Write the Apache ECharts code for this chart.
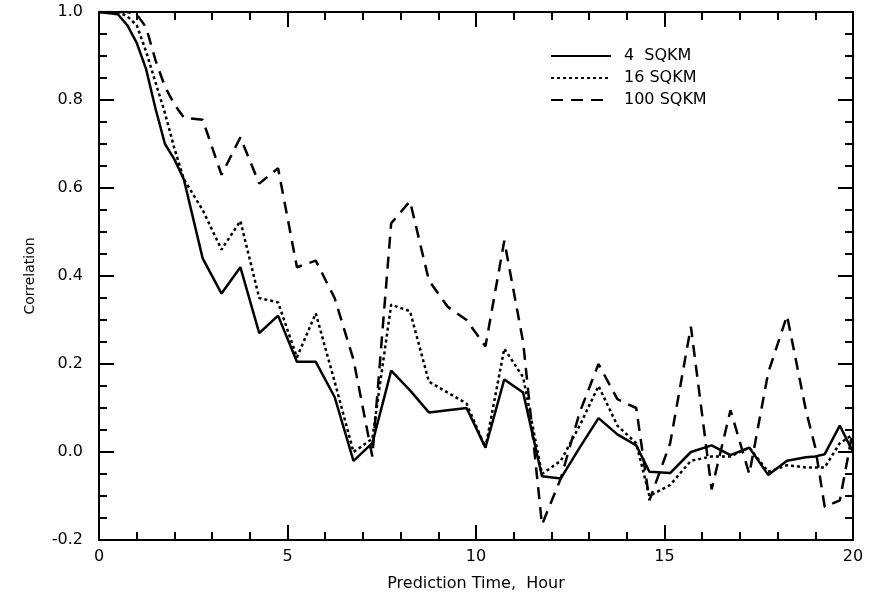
<!DOCTYPE html>
<html>
<head>
<meta charset="UTF-8">
<title>index.html</title>
<style type="text/css">
html, body {
  margin: 0;
  padding: 0;
  background: #fff;
}
#main {
  width: 882px;
  height: 597px;
}
</style>
<script type="text/javascript" src="https://cdn.jsdelivr.net/npm/echarts@6/dist/echarts.min.js"></script>
</head>
<body>
  <div id="main"></div>
<script>
  // prediction time (hour) of each sample
  var hours = [0, 0.5, 0.75, 1, 1.25, 1.5, 1.75, 2, 2.25, 2.75, 3.25, 3.75, 4.25, 4.75, 5.25, 5.75,
    6.25, 6.75, 7.25, 7.75, 8.25, 8.75, 9.25, 9.75, 10.25, 10.75, 11.25, 11.75, 12.25, 12.75,
    13.25, 13.75, 14.25, 14.6, 15.15, 15.7, 16.25, 16.75, 17.25, 17.75, 18.25, 18.75, 19, 19.25,
    19.65, 20];
  // correlation, one list per area
  var corr4 = [1.0, 0.995, 0.97, 0.93, 0.87, 0.78, 0.70, 0.665, 0.62, 0.44, 0.36, 0.42, 0.27, 0.31,
    0.205, 0.205, 0.125, -0.02, 0.02, 0.185, 0.14, 0.09, 0.095, 0.1, 0.01, 0.165, 0.135, -0.055,
    -0.06, 0.01, 0.077, 0.04, 0.015, -0.045, -0.048, 0.0, 0.015, -0.007, 0.01, -0.052, -0.02,
    -0.012, -0.01, -0.005, 0.06, 0.0];
  var corr16 = [1.0, 1.0, 0.99, 0.97, 0.91, 0.84, 0.77, 0.69, 0.62, 0.55, 0.46, 0.525, 0.35, 0.34,
    0.215, 0.315, 0.16, 0.0, 0.03, 0.335, 0.32, 0.16, 0.135, 0.11, 0.01, 0.235, 0.17, -0.05,
    -0.02, 0.06, 0.15, 0.06, 0.02, -0.1, -0.075, -0.02, -0.01, -0.01, 0.01, -0.045, -0.03,
    -0.035, -0.035, -0.035, 0.02, 0.04];
  var corr100 = [1.0, 1.0, 1.0, 0.995, 0.965, 0.89, 0.83, 0.79, 0.76, 0.755, 0.63, 0.715, 0.61, 0.645,
    0.42, 0.435, 0.35, 0.21, -0.01, 0.52, 0.57, 0.39, 0.33, 0.30, 0.24, 0.48, 0.25, -0.165,
    -0.06, 0.09, 0.2, 0.12, 0.1, -0.11, 0.02, 0.285, -0.085, 0.095, -0.05, 0.18, 0.31, 0.095,
    0.01, -0.125, -0.11, 0.05];
  var names = ['4  SQKM', '16 SQKM', '100 SQKM'];

  function pairs(vals) {
    return hours.map(function(h, i) { return [h, vals[i]]; });
  }

  var font = 'DejaVu Sans';
  var axisLine = { onZero: false, lineStyle: { color: '#000', width: 2 } };
  var tick = { inside: true, length: 15, lineStyle: { color: '#000', width: 2 } };
  var minor = function(n) {
    return { show: true, splitNumber: n, length: 8, lineStyle: { color: '#000', width: 2 } };
  };

  var myChart = echarts.init(document.getElementById('main'));
  var option = {
    backgroundColor: '#fff',
    animation: false,
    grid: { left: 99, right: 29, top: 12, bottom: 56 },
    legend: {
      orient: 'vertical',
      left: 545,
      top: 43,
      itemWidth: 60,
      itemHeight: 12,
      itemGap: 6,
      data: names,
      itemStyle: { opacity: 0 },
      textStyle: { color: '#000', fontSize: 16, fontFamily: font, padding: [0, 0, 0, 8] }
    },
    xAxis: [ {
      type: 'value',
      min: 0,
      max: 20,
      interval: 5,
      name: 'Prediction Time,  Hour',
      nameLocation: 'middle',
      nameGap: 36,
      nameTextStyle: { color: '#000', fontSize: 16, fontFamily: font },
      axisLine: axisLine,
      axisTick: tick,
      minorTick: minor(5),
      splitLine: { show: false },
      axisLabel: { color: '#000', fontSize: 16, fontFamily: font, margin: 9 }
    }, {
      type: 'value',
      position: 'top',
      min: 0,
      max: 20,
      interval: 5,
      axisLine: axisLine,
      axisTick: tick,
      minorTick: minor(5),
      splitLine: { show: false },
      axisLabel: { show: false }
    } ],
    yAxis: [ {
      type: 'value',
      min: -0.2,
      max: 1.0,
      interval: 0.2,
      name: 'Correlation',
      nameLocation: 'middle',
      nameGap: 62,
      nameTextStyle: { color: '#000', fontSize: 14, fontFamily: font },
      axisLine: axisLine,
      axisTick: tick,
      minorTick: minor(4),
      splitLine: { show: false },
      axisLabel: {
        color: '#000', fontSize: 16, fontFamily: font, margin: 16,
        formatter: function(v) { return v.toFixed(1); }
      }
    }, {
      type: 'value',
      position: 'right',
      min: -0.2,
      max: 1.0,
      interval: 0.2,
      axisLine: axisLine,
      axisTick: tick,
      minorTick: minor(4),
      splitLine: { show: false },
      axisLabel: { show: false }
    } ],
    series: [ {
      name: names[0],
      type: 'line',
      symbol: 'none',
      data: pairs(corr4),
      lineStyle: { color: '#000', width: 2.5, type: 'solid' },
      itemStyle: { color: '#000' }
    }, {
      name: names[1],
      type: 'line',
      symbol: 'none',
      data: pairs(corr16),
      lineStyle: { color: '#000', width: 2.5, type: [3, 3] },
      itemStyle: { color: '#000' }
    }, {
      name: names[2],
      type: 'line',
      symbol: 'none',
      data: pairs(corr100),
      lineStyle: { color: '#000', width: 2.5, type: [12, 8] },
      itemStyle: { color: '#000' }
    } ]
  };
  myChart.setOption(option);
</script>
</body>
</html>
